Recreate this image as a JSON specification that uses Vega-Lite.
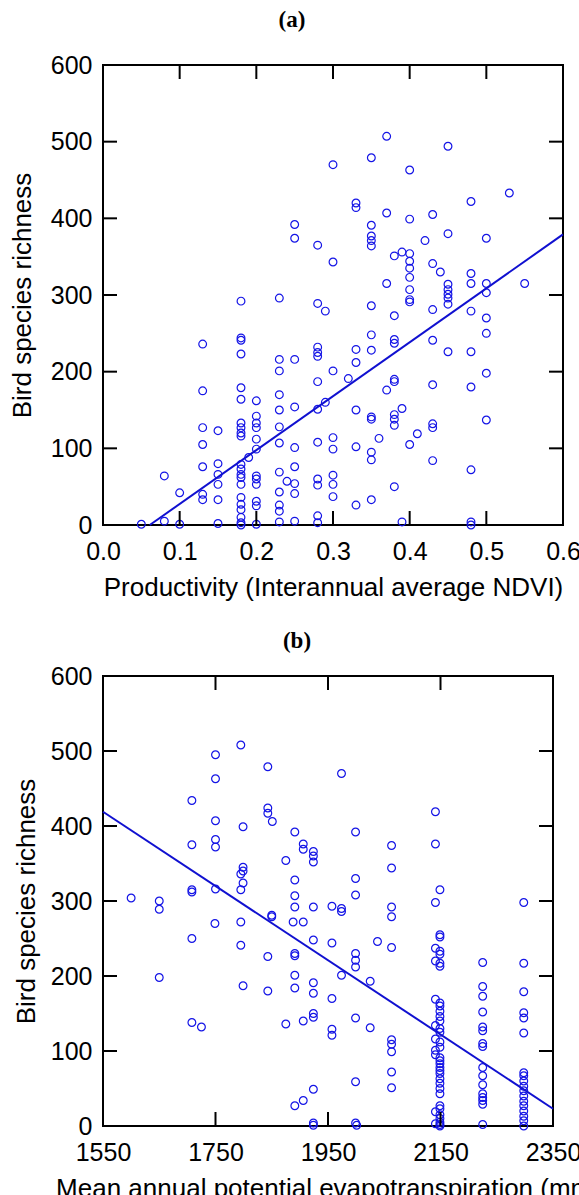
{
  "$schema": "https://vega.github.io/schema/vega-lite/v6.json",
  "padding": {"left": 8, "top": 8, "right": 0, "bottom": 0},
  "background": "white",
  "spacing": 28,
  "config": {
    "view": {"stroke": "black", "strokeWidth": 2},
    "axis": {
      "domain": false, "ticks": false, "grid": false,
      "labelFont": "Liberation Sans", "labelFontSize": 25, "labelColor": "black",
      "labelFlush": false, "labelOverlap": false,
      "titleFont": "Liberation Sans", "titleFontSize": 26, "titleFontWeight": "normal", "titleColor": "black"
    },
    "axisX": {"labelPadding": 14},
    "axisY": {"labelPadding": 11},
    "title": {"font": "Liberation Serif", "fontWeight": "bold", "fontSize": 23, "color": "black"}
  },
  "datasets": {
    "ndviTicks": [{"t":0},{"t":0.1},{"t":0.2},{"t":0.3},{"t":0.4},{"t":0.5},{"t":0.6}],
    "petTicks": [{"t":1550},{"t":1750},{"t":1950},{"t":2150},{"t":2350}],
    "richTicks": [{"t":0},{"t":100},{"t":200},{"t":300},{"t":400},{"t":500},{"t":600}],
    "ndvi": [
      {"ndvi":0.05,"richness":1},{"ndvi":0.08,"richness":64},{"ndvi":0.08,"richness":5},{"ndvi":0.10,"richness":42},{"ndvi":0.10,"richness":1},
      {"ndvi":0.13,"richness":236},{"ndvi":0.13,"richness":175},{"ndvi":0.13,"richness":127},{"ndvi":0.13,"richness":105},{"ndvi":0.13,"richness":76},{"ndvi":0.13,"richness":40},{"ndvi":0.13,"richness":33},
      {"ndvi":0.15,"richness":123},{"ndvi":0.15,"richness":80},{"ndvi":0.15,"richness":66},{"ndvi":0.15,"richness":53},{"ndvi":0.15,"richness":33},{"ndvi":0.15,"richness":2},
      {"ndvi":0.18,"richness":292},{"ndvi":0.18,"richness":244},{"ndvi":0.18,"richness":241},{"ndvi":0.18,"richness":223},{"ndvi":0.18,"richness":179},{"ndvi":0.18,"richness":164},{"ndvi":0.18,"richness":133},{"ndvi":0.18,"richness":127},{"ndvi":0.18,"richness":120},{"ndvi":0.18,"richness":116},{"ndvi":0.18,"richness":79},{"ndvi":0.18,"richness":73},{"ndvi":0.18,"richness":66},{"ndvi":0.18,"richness":62},{"ndvi":0.18,"richness":53},{"ndvi":0.18,"richness":36},{"ndvi":0.18,"richness":27},{"ndvi":0.18,"richness":20},{"ndvi":0.18,"richness":10},{"ndvi":0.18,"richness":3},{"ndvi":0.18,"richness":0},
      {"ndvi":0.19,"richness":88},
      {"ndvi":0.20,"richness":162},{"ndvi":0.20,"richness":142},{"ndvi":0.20,"richness":133},{"ndvi":0.20,"richness":127},{"ndvi":0.20,"richness":112},{"ndvi":0.20,"richness":99},{"ndvi":0.20,"richness":64},{"ndvi":0.20,"richness":60},{"ndvi":0.20,"richness":53},{"ndvi":0.20,"richness":31},{"ndvi":0.20,"richness":25},{"ndvi":0.20,"richness":1},
      {"ndvi":0.23,"richness":296},{"ndvi":0.23,"richness":216},{"ndvi":0.23,"richness":201},{"ndvi":0.23,"richness":170},{"ndvi":0.23,"richness":150},{"ndvi":0.23,"richness":128},{"ndvi":0.23,"richness":107},{"ndvi":0.23,"richness":69},{"ndvi":0.23,"richness":43},{"ndvi":0.23,"richness":26},{"ndvi":0.23,"richness":18},{"ndvi":0.23,"richness":4},
      {"ndvi":0.25,"richness":392},{"ndvi":0.25,"richness":374},{"ndvi":0.25,"richness":216},{"ndvi":0.25,"richness":154},{"ndvi":0.25,"richness":101},{"ndvi":0.25,"richness":76},{"ndvi":0.24,"richness":57},{"ndvi":0.25,"richness":54},{"ndvi":0.25,"richness":41},{"ndvi":0.25,"richness":5},
      {"ndvi":0.28,"richness":365},{"ndvi":0.28,"richness":289},{"ndvi":0.29,"richness":279},{"ndvi":0.28,"richness":232},{"ndvi":0.28,"richness":225},{"ndvi":0.28,"richness":220},{"ndvi":0.28,"richness":187},{"ndvi":0.28,"richness":151},{"ndvi":0.29,"richness":160},{"ndvi":0.28,"richness":108},{"ndvi":0.28,"richness":60},{"ndvi":0.28,"richness":52},{"ndvi":0.28,"richness":12},{"ndvi":0.28,"richness":3},
      {"ndvi":0.30,"richness":470},{"ndvi":0.30,"richness":343},{"ndvi":0.30,"richness":201},{"ndvi":0.30,"richness":114},{"ndvi":0.30,"richness":99},{"ndvi":0.30,"richness":65},{"ndvi":0.30,"richness":53},{"ndvi":0.30,"richness":37},
      {"ndvi":0.37,"richness":507},{"ndvi":0.35,"richness":479},{"ndvi":0.45,"richness":494},{"ndvi":0.40,"richness":463},{"ndvi":0.53,"richness":433},{"ndvi":0.33,"richness":420},{"ndvi":0.33,"richness":414},{"ndvi":0.48,"richness":422},{"ndvi":0.37,"richness":407},{"ndvi":0.40,"richness":399},{"ndvi":0.43,"richness":405},
      {"ndvi":0.35,"richness":391},{"ndvi":0.35,"richness":377},{"ndvi":0.35,"richness":371},{"ndvi":0.35,"richness":364},{"ndvi":0.45,"richness":380},{"ndvi":0.50,"richness":374},{"ndvi":0.42,"richness":371},
      {"ndvi":0.38,"richness":351},{"ndvi":0.39,"richness":356},{"ndvi":0.40,"richness":354},{"ndvi":0.40,"richness":344},{"ndvi":0.40,"richness":335},{"ndvi":0.40,"richness":323},{"ndvi":0.40,"richness":307},{"ndvi":0.40,"richness":294},
      {"ndvi":0.43,"richness":341},{"ndvi":0.44,"richness":330},{"ndvi":0.48,"richness":328},{"ndvi":0.48,"richness":315},{"ndvi":0.50,"richness":315},{"ndvi":0.50,"richness":303},{"ndvi":0.55,"richness":315},{"ndvi":0.37,"richness":315},{"ndvi":0.45,"richness":314},{"ndvi":0.45,"richness":307},{"ndvi":0.45,"richness":301},
      {"ndvi":0.35,"richness":286},{"ndvi":0.40,"richness":291},{"ndvi":0.43,"richness":281},{"ndvi":0.45,"richness":288},{"ndvi":0.45,"richness":296},{"ndvi":0.48,"richness":279},{"ndvi":0.50,"richness":270},{"ndvi":0.50,"richness":250},
      {"ndvi":0.38,"richness":273},{"ndvi":0.35,"richness":248},{"ndvi":0.38,"richness":242},{"ndvi":0.38,"richness":237},{"ndvi":0.43,"richness":241},{"ndvi":0.33,"richness":229},{"ndvi":0.35,"richness":228},{"ndvi":0.33,"richness":212},{"ndvi":0.45,"richness":226},{"ndvi":0.48,"richness":226},
      {"ndvi":0.32,"richness":191},{"ndvi":0.38,"richness":190},{"ndvi":0.38,"richness":187},{"ndvi":0.37,"richness":176},{"ndvi":0.43,"richness":183},{"ndvi":0.48,"richness":180},{"ndvi":0.50,"richness":198},
      {"ndvi":0.39,"richness":152},{"ndvi":0.33,"richness":150},{"ndvi":0.35,"richness":141},{"ndvi":0.35,"richness":138},{"ndvi":0.38,"richness":144},{"ndvi":0.38,"richness":138},{"ndvi":0.38,"richness":130},{"ndvi":0.43,"richness":132},{"ndvi":0.43,"richness":127},{"ndvi":0.50,"richness":137},
      {"ndvi":0.36,"richness":113},{"ndvi":0.41,"richness":119},{"ndvi":0.40,"richness":105},{"ndvi":0.33,"richness":102},{"ndvi":0.35,"richness":95},{"ndvi":0.35,"richness":85},{"ndvi":0.43,"richness":84},{"ndvi":0.48,"richness":72},
      {"ndvi":0.38,"richness":50},{"ndvi":0.33,"richness":26},{"ndvi":0.35,"richness":33},{"ndvi":0.39,"richness":4},{"ndvi":0.48,"richness":4},{"ndvi":0.48,"richness":0}
    ],
    "ndviFit": [{"ndvi":0.061,"richness":0},{"ndvi":0.6,"richness":379}],
    "pet": [
      {"pet":1600,"richness":304},{"pet":1650,"richness":300},{"pet":1650,"richness":289},{"pet":1650,"richness":198},
      {"pet":1708,"richness":434},{"pet":1708,"richness":375},{"pet":1708,"richness":315},{"pet":1708,"richness":312},{"pet":1708,"richness":250},{"pet":1708,"richness":138},{"pet":1725,"richness":132},
      {"pet":1750,"richness":495},{"pet":1750,"richness":463},{"pet":1750,"richness":407},{"pet":1750,"richness":382},{"pet":1750,"richness":372},{"pet":1750,"richness":316},{"pet":1749,"richness":270},
      {"pet":1795,"richness":508},{"pet":1799,"richness":399},{"pet":1799,"richness":345},{"pet":1799,"richness":340},{"pet":1795,"richness":336},{"pet":1799,"richness":324},{"pet":1795,"richness":315},{"pet":1795,"richness":272},{"pet":1795,"richness":241},{"pet":1799,"richness":187},
      {"pet":1843,"richness":479},{"pet":1843,"richness":424},{"pet":1843,"richness":417},{"pet":1851,"richness":406},{"pet":1850,"richness":281},{"pet":1850,"richness":279},{"pet":1843,"richness":226},{"pet":1843,"richness":180},
      {"pet":1875,"richness":354},{"pet":1875,"richness":136},
      {"pet":1891,"richness":392},{"pet":1891,"richness":328},{"pet":1891,"richness":307},{"pet":1891,"richness":292},{"pet":1891,"richness":230},{"pet":1891,"richness":227},{"pet":1891,"richness":201},{"pet":1891,"richness":184},{"pet":1888,"richness":272},{"pet":1891,"richness":27},
      {"pet":1906,"richness":376},{"pet":1906,"richness":369},{"pet":1906,"richness":272},{"pet":1906,"richness":140},{"pet":1906,"richness":34},
      {"pet":1924,"richness":366},{"pet":1924,"richness":360},{"pet":1924,"richness":352},{"pet":1924,"richness":292},{"pet":1924,"richness":248},{"pet":1924,"richness":191},{"pet":1924,"richness":177},{"pet":1924,"richness":150},{"pet":1924,"richness":145},{"pet":1924,"richness":49},{"pet":1924,"richness":4},{"pet":1924,"richness":1},
      {"pet":1957,"richness":293},{"pet":1957,"richness":244},{"pet":1957,"richness":170},{"pet":1957,"richness":129},{"pet":1957,"richness":121},
      {"pet":1974,"richness":470},{"pet":1974,"richness":290},{"pet":1974,"richness":286},{"pet":1974,"richness":201},
      {"pet":1999,"richness":392},{"pet":1999,"richness":330},{"pet":1999,"richness":308},{"pet":1999,"richness":230},{"pet":1999,"richness":221},{"pet":1999,"richness":212},{"pet":1999,"richness":144},{"pet":1999,"richness":59},{"pet":1999,"richness":4},{"pet":2001,"richness":1},
      {"pet":2025,"richness":193},{"pet":2025,"richness":131},{"pet":2038,"richness":246},
      {"pet":2063,"richness":374},{"pet":2063,"richness":344},{"pet":2063,"richness":292},{"pet":2063,"richness":279},{"pet":2063,"richness":238},{"pet":2063,"richness":115},{"pet":2063,"richness":109},{"pet":2063,"richness":99},{"pet":2063,"richness":72},{"pet":2063,"richness":51},
      {"pet":2141,"richness":419},{"pet":2141,"richness":376},{"pet":2149,"richness":315},{"pet":2141,"richness":298},
      {"pet":2149,"richness":255},{"pet":2149,"richness":252},{"pet":2141,"richness":237},{"pet":2149,"richness":233},{"pet":2149,"richness":229},{"pet":2141,"richness":220},{"pet":2149,"richness":217},{"pet":2149,"richness":213},
      {"pet":2141,"richness":169},{"pet":2149,"richness":164},{"pet":2149,"richness":160},{"pet":2149,"richness":153},{"pet":2149,"richness":146},{"pet":2149,"richness":140},{"pet":2141,"richness":134},{"pet":2149,"richness":130},{"pet":2149,"richness":125},
      {"pet":2141,"richness":116},{"pet":2149,"richness":112},{"pet":2149,"richness":105},{"pet":2141,"richness":101},{"pet":2141,"richness":95},{"pet":2149,"richness":91},{"pet":2149,"richness":87},{"pet":2149,"richness":83},{"pet":2149,"richness":78},{"pet":2149,"richness":74},{"pet":2149,"richness":70},{"pet":2149,"richness":63},{"pet":2149,"richness":57},{"pet":2149,"richness":50},{"pet":2149,"richness":43},
      {"pet":2149,"richness":27},{"pet":2149,"richness":23},{"pet":2141,"richness":19},{"pet":2149,"richness":15},{"pet":2149,"richness":10},{"pet":2149,"richness":5},{"pet":2149,"richness":2},{"pet":2141,"richness":3},{"pet":2149,"richness":0},
      {"pet":2225,"richness":218},{"pet":2225,"richness":186},{"pet":2225,"richness":173},{"pet":2225,"richness":152},{"pet":2225,"richness":132},{"pet":2225,"richness":127},{"pet":2225,"richness":110},{"pet":2225,"richness":106},{"pet":2225,"richness":78},{"pet":2225,"richness":67},{"pet":2225,"richness":55},{"pet":2225,"richness":43},{"pet":2225,"richness":38},{"pet":2225,"richness":34},{"pet":2225,"richness":29},{"pet":2225,"richness":2},
      {"pet":2298,"richness":298},{"pet":2298,"richness":217},{"pet":2298,"richness":179},{"pet":2298,"richness":151},{"pet":2298,"richness":144},{"pet":2298,"richness":124},{"pet":2298,"richness":71},{"pet":2298,"richness":67},{"pet":2298,"richness":60},{"pet":2298,"richness":53},{"pet":2298,"richness":47},{"pet":2298,"richness":40},{"pet":2298,"richness":33},{"pet":2298,"richness":27},{"pet":2298,"richness":20},{"pet":2298,"richness":13},{"pet":2298,"richness":7},{"pet":2298,"richness":0}
    ],
    "petFit": [{"pet":1550,"richness":419},{"pet":2350,"richness":23}]
  },
  "vconcat": [
    {
      "title": {"text": "(a)", "dx": -41, "offset": 21},
      "width": 460, "height": 460,
      "resolve": {"axis": {"x": "independent", "y": "independent"}},
      "layer": [
        {
          "data": {"name": "ndvi"},
          "mark": {"type": "point", "shape": "circle", "filled": false, "size": 60, "strokeWidth": 1.2, "color": "#1414e6", "opacity": 1},
          "encoding": {
            "x": {"field": "ndvi", "type": "quantitative", "scale": {"domain": [0, 0.6], "nice": false, "zero": false},
                  "axis": {"values": [0, 0.1, 0.2, 0.3, 0.4, 0.5, 0.6], "format": ".1f", "title": "Productivity (Interannual average NDVI)", "titlePadding": 10}},
            "y": {"field": "richness", "type": "quantitative", "scale": {"domain": [0, 600], "nice": false},
                  "axis": {"values": [0, 100, 200, 300, 400, 500, 600], "title": "Bird species richness", "titlePadding": 15}}
          }
        },
        {
          "data": {"name": "ndviFit"},
          "mark": {"type": "line", "color": "#1010d0", "strokeWidth": 2},
          "encoding": {
            "x": {"field": "ndvi", "type": "quantitative", "axis": null},
            "y": {"field": "richness", "type": "quantitative", "axis": null}
          }
        },
        {
          "data": {"name": "ndviTicks"},
          "mark": {"type": "rule", "color": "black", "strokeWidth": 2},
          "encoding": {"x": {"field": "t", "type": "quantitative", "axis": null}, "y": {"datum": 0, "axis": null}, "y2": {"datum": 18.26}}
        },
        {
          "data": {"name": "ndviTicks"},
          "mark": {"type": "rule", "color": "black", "strokeWidth": 2},
          "encoding": {"x": {"field": "t", "type": "quantitative", "axis": null}, "y": {"datum": 600, "axis": null}, "y2": {"datum": 581.74}}
        },
        {
          "data": {"name": "richTicks"},
          "mark": {"type": "rule", "color": "black", "strokeWidth": 2},
          "encoding": {"y": {"field": "t", "type": "quantitative", "axis": null}, "x": {"datum": 0, "axis": null}, "x2": {"datum": 0.01826}}
        },
        {
          "data": {"name": "richTicks"},
          "mark": {"type": "rule", "color": "black", "strokeWidth": 2},
          "encoding": {"y": {"field": "t", "type": "quantitative", "axis": null}, "x": {"datum": 0.6, "axis": null}, "x2": {"datum": 0.58174}}
        }
      ]
    },
    {
      "title": {"text": "(b)", "dx": -31, "offset": 11},
      "width": 450, "height": 450,
      "resolve": {"axis": {"x": "independent", "y": "independent"}},
      "layer": [
        {
          "data": {"name": "pet"},
          "mark": {"type": "point", "shape": "circle", "filled": false, "size": 60, "strokeWidth": 1.2, "color": "#1414e6", "opacity": 1},
          "encoding": {
            "x": {"field": "pet", "type": "quantitative", "scale": {"domain": [1550, 2350], "nice": false, "zero": false},
                  "axis": {"values": [1550, 1750, 1950, 2150, 2350], "format": "d", "title": "Mean annual potential evapotranspiration (mm)", "titlePadding": 10}},
            "y": {"field": "richness", "type": "quantitative", "scale": {"domain": [0, 600], "nice": false},
                  "axis": {"values": [0, 100, 200, 300, 400, 500, 600], "title": "Bird species richness", "titlePadding": 11}}
          }
        },
        {
          "data": {"name": "petFit"},
          "mark": {"type": "line", "color": "#1010d0", "strokeWidth": 2},
          "encoding": {
            "x": {"field": "pet", "type": "quantitative", "axis": null},
            "y": {"field": "richness", "type": "quantitative", "axis": null}
          }
        },
        {
          "data": {"name": "petTicks"},
          "mark": {"type": "rule", "color": "black", "strokeWidth": 2},
          "encoding": {"x": {"field": "t", "type": "quantitative", "axis": null}, "y": {"datum": 0, "axis": null}, "y2": {"datum": 18.67}}
        },
        {
          "data": {"name": "petTicks"},
          "mark": {"type": "rule", "color": "black", "strokeWidth": 2},
          "encoding": {"x": {"field": "t", "type": "quantitative", "axis": null}, "y": {"datum": 600, "axis": null}, "y2": {"datum": 581.33}}
        },
        {
          "data": {"name": "richTicks"},
          "mark": {"type": "rule", "color": "black", "strokeWidth": 2},
          "encoding": {"y": {"field": "t", "type": "quantitative", "axis": null}, "x": {"datum": 1550, "axis": null}, "x2": {"datum": 1574.9}}
        },
        {
          "data": {"name": "richTicks"},
          "mark": {"type": "rule", "color": "black", "strokeWidth": 2},
          "encoding": {"y": {"field": "t", "type": "quantitative", "axis": null}, "x": {"datum": 2350, "axis": null}, "x2": {"datum": 2325.1}}
        }
      ]
    }
  ]
}
